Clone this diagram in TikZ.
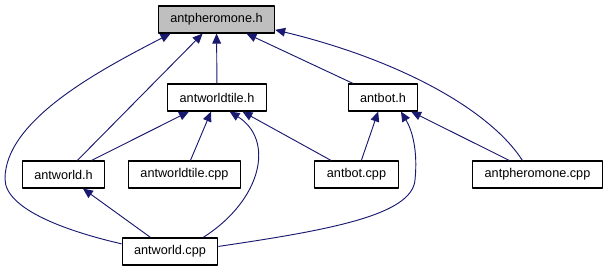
\documentclass[tikz,border=0pt]{standalone}
\usepackage{fontspec}
\setmainfont{Liberation Sans}
\usetikzlibrary{arrows.meta}
\definecolor{edgeblue}{HTML}{191970}
\definecolor{hdrgray}{HTML}{BFBFBF}
\begin{document}
\begin{tikzpicture}[x=0.75pt,y=-0.75pt,line join=round,every node/.style={font=\fontsize{9.5}{11}\selectfont}]
\tikzset{F/.style={draw=black,fill=white,line width=0.8pt,minimum height=20.25pt,inner xsep=9pt,inner ysep=0pt},
  E/.style={draw=edgeblue,line width=0.7pt,-{Triangle[length=7.5pt,width=6.5pt,fill=edgeblue]}}}
\useasboundingbox (0,0) rectangle (606,272);
\node[F,fill=hdrgray] (pherh) at (216.5,19.5) {antpheromone.h};
\node[F] (tileh) at (217,97.5) {antworldtile.h}; \node[F] (both) at (383,97.5) {antbot.h};
\node[F] (worldh) at (63.5,174.5) {antworld.h}; \node[F] (tilecpp) at (184.5,174.5) {antworldtile.cpp};
\node[F] (botcpp) at (356.5,174.5) {antbot.cpp}; \node[F] (phercpp) at (537.5,174.5) {antpheromone.cpp};
\node[F] (worldcpp) at (170,251.5) {antworld.cpp};
\draw[E] (worldh) -- (pherh); \draw[E] (tileh) -- (pherh); \draw[E] (both) -- (pherh);
\draw[E] (worldh) -- (tileh); \draw[E] (tilecpp) -- (tileh); \draw[E] (botcpp) -- (tileh);
\draw[E] (botcpp) -- (both); \draw[E] (phercpp) -- (both); \draw[E] (worldcpp) -- (worldh);
\draw[E] (worldcpp.171) .. controls (70,232) and (5,210) .. (5,179) .. controls (5,120) and (100,70) .. (pherh.197);
\draw[E] (phercpp.137) .. controls (490,110) and (400,60) .. (pherh.350);
\draw[E] (worldcpp.23) .. controls (262,200) and (275,140) .. (tileh.312);
\draw[E] (worldcpp.6) .. controls (330,230) and (412,215) .. (415,180) .. controls (418,150) and (412,130) .. (both.322);
\end{tikzpicture}
\end{document}
